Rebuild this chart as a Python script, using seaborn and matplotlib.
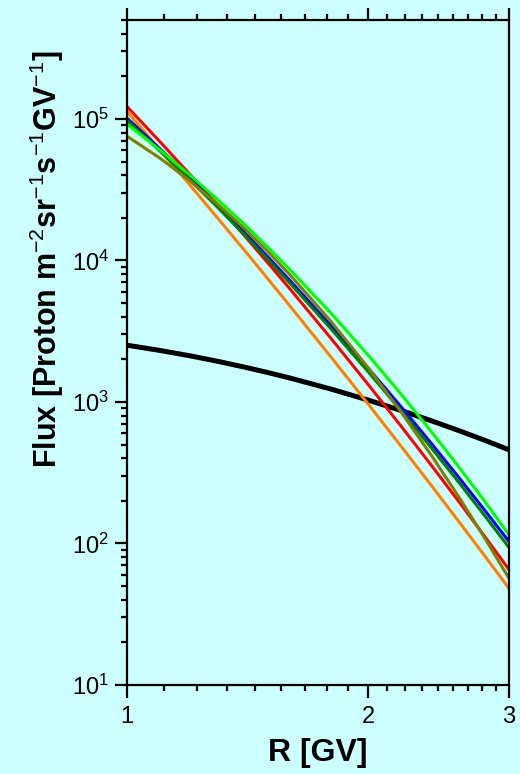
import numpy as np
import pandas as pd
import matplotlib
matplotlib.use("Agg")
import matplotlib.pyplot as plt
import seaborn as sns
from matplotlib.ticker import FixedLocator, LogLocator, NullFormatter, FixedFormatter

# ---- data ----
R = [1.0, 1.1, 1.2, 1.3, 1.4, 1.5, 1.6, 1.8, 2.0, 2.2, 2.4, 2.6, 2.8, 3.0]
flux_black = [2518, 2311, 2116, 1934, 1766, 1613, 1473, 1231, 1032, 870, 736, 626, 535, 459]
flux_orange = [112700, 60300, 33800, 19700, 11900, 7400, 4720, 2060, 970, 486, 256.5, 141.6, 81.2, 48.1]
flux_red = [122200, 68800, 40200, 24300, 15100, 9580, 6230, 2790, 1333, 673, 356, 196, 111.4, 65.4]
flux_blue = [101200, 61300, 38200, 24300, 15900, 10560, 7150, 3430, 1739, 922, 508.5, 290.1, 170.7, 103.1]
flux_darkgreen = [97700, 59200, 36800, 23500, 15300, 10130, 6840, 3260, 1641, 864, 472.9, 267.7, 156.2, 93.6]
flux_green = [91800, 60200, 39800, 26700, 18100, 12360, 8540, 4210, 2148, 1133, 616, 343.9, 196.8, 115.2]
flux_olive = [75500, 52700, 36300, 24800, 16900, 11520, 7850, 3680, 1750, 848, 418.9, 211, 108.4, 56.7]

series_names = ["orange", "red", "blue", "darkgreen", "green", "olive"]
series_vals = [flux_orange, flux_red, flux_blue, flux_darkgreen, flux_green, flux_olive]
palette = {"orange": "#FF8000", "red": "#FF0000", "blue": "#0000FF",
           "darkgreen": "#008000", "green": "#00FF00", "olive": "#808000"}

x_ticks = [1, 2, 3]
x_ticklabels = ["1", "2", "3"]
y_ticks = [1e1, 1e2, 1e3, 1e4, 1e5]
y_ticklabels = [r"10$^{1}$", r"10$^{2}$", r"10$^{3}$", r"10$^{4}$", r"10$^{5}$"]

df = pd.concat([pd.DataFrame({"R": R, "flux": v, "series": n})
                for n, v in zip(series_names, series_vals)], ignore_index=True)
df_black = pd.DataFrame({"R": R, "flux": flux_black})

# ---- style ----
sns.set_theme(style="ticks")
bg = "#CCFFFF"
plt.rcParams["font.family"] = ["Liberation Sans", "DejaVu Sans"]
plt.rcParams["mathtext.fontset"] = "custom"
plt.rcParams["mathtext.rm"] = "Liberation Sans"
plt.rcParams["mathtext.it"] = "Liberation Sans:italic"
plt.rcParams["mathtext.bf"] = "Liberation Sans:bold"
plt.rcParams["text.color"] = "black"
plt.rcParams["axes.labelcolor"] = "black"
plt.rcParams["xtick.color"] = "black"
plt.rcParams["ytick.color"] = "black"

fig = plt.figure(figsize=(5.2, 7.74), dpi=100, facecolor=bg)
ax = fig.add_axes([127/520, 1-685/774, (509-127)/520, (685-20)/774])
ax.set_facecolor(bg)

sns.lineplot(data=df_black, x="R", y="flux", color="black", linewidth=3.6, ax=ax)
sns.lineplot(data=df, x="R", y="flux", hue="series", hue_order=series_names,
             palette=palette, linewidth=2.2, ax=ax, legend=False)

ax.set_xscale("log")
ax.set_yscale("log")
ax.set_xlim(1, 3)
ax.set_ylim(10, 5e5)

ax.xaxis.set_major_locator(FixedLocator(x_ticks))
ax.xaxis.set_major_formatter(FixedFormatter(x_ticklabels))
minor_x = [1 + k/9 for k in range(1, 18) if k != 9]
ax.xaxis.set_minor_locator(FixedLocator(minor_x))
ax.xaxis.set_minor_formatter(NullFormatter())

ax.yaxis.set_major_locator(FixedLocator(y_ticks))
ax.yaxis.set_major_formatter(FixedFormatter(y_ticklabels))
ax.yaxis.set_minor_locator(LogLocator(base=10, subs=np.arange(2, 10), numticks=20))
ax.yaxis.set_minor_formatter(NullFormatter())

for sp in ax.spines.values():
    sp.set_visible(True)
    sp.set_linewidth(1.6)
    sp.set_color("black")

ax.tick_params(axis="both", which="major", direction="out", length=9, width=1.6,
               colors="black", labelsize=17, pad=4)
ax.tick_params(axis="both", which="minor", direction="out", length=4.5, width=1.6,
               colors="black")
ax.tick_params(axis="x", which="both", top=True, bottom=True, labeltop=False)
ax.tick_params(axis="y", which="both", left=True, right=False)
ax.tick_params(axis="x", which="major", pad=6)

ax.set_xlabel("R [GV]", fontsize=23, fontweight="bold", color="black")
ax.set_ylabel(r"Flux [Proton m$^{\mathrm{-2}}$sr$^{\mathrm{-1}}$s$^{\mathrm{-1}}$GV$^{\mathrm{-1}}$]",
              fontsize=22, fontweight="bold", color="black")
ax.xaxis.set_label_coords(0.5, -0.08)
ax.yaxis.set_label_coords(-0.16, 0.64)

fig.savefig("out.png", dpi=100, facecolor=bg)
